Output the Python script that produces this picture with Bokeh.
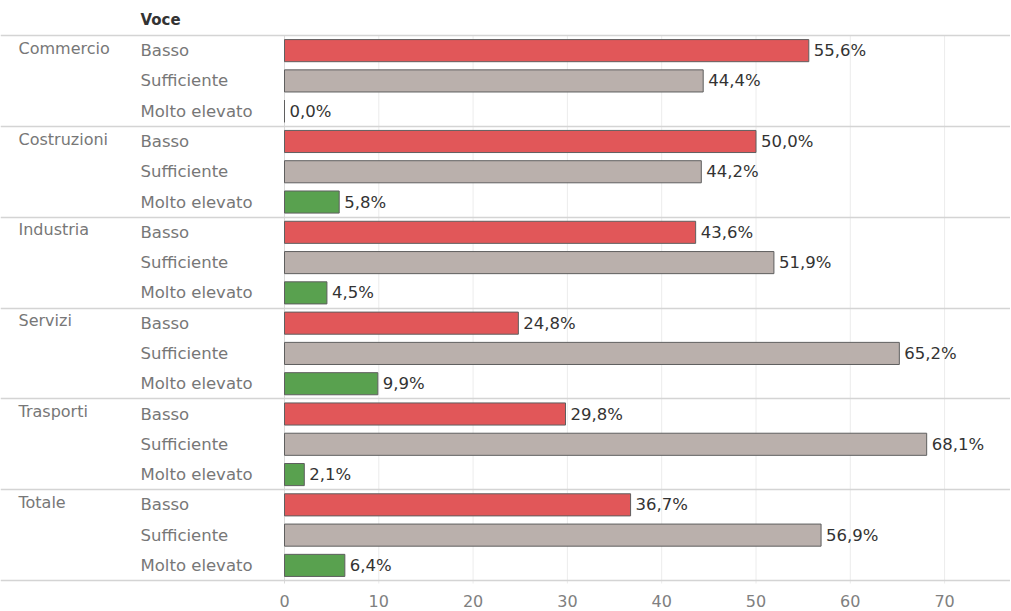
from bokeh.plotting import figure
from bokeh.models import Range1d, FixedTicker, ColumnDataSource
from bokeh.core.properties import value
from bokeh.embed import file_html
from bokeh.resources import INLINE

sectors = ["Commercio", "Costruzioni", "Industria", "Servizi", "Trasporti", "Totale"]
levels = ["Basso", "Sufficiente", "Molto elevato"]
basso = [55.6, 50.0, 43.6, 24.8, 29.8, 36.7]
sufficiente = [44.4, 44.2, 51.9, 65.2, 68.1, 56.9]
molto_elevato = [0.0, 5.8, 4.5, 9.9, 2.1, 6.4]
level_colors = ["#E15759", "#BAB0AC", "#59A14F"]
tick_values = [0, 10, 20, 30, 40, 50, 60, 70]
header = "Voce"

FONT = "DejaVu Sans"
FW, FH = 1010, 583
PX_PER_UNIT = 9.43
ZERO_PX = 284
ROW_PX = 30.28
TOP_SEP_PX = 35

x_start = -ZERO_PX / PX_PER_UNIT
x_end = (FW - ZERO_PX) / PX_PER_UNIT
y_start = -TOP_SEP_PX / ROW_PX
y_end = (FH - TOP_SEP_PX) / ROW_PX

series = [basso, sufficiente, molto_elevato]
ys, rights, cols, labels = [], [], [], []
lvl_y, lvl_txt = [], []
for g, s in enumerate(sectors):
    for j, lv in enumerate(levels):
        y = g * 3 + j + 0.5
        v = series[j][g]
        ys.append(y)
        rights.append(v)
        cols.append(level_colors[j])
        labels.append(("%.1f" % v).replace(".", ",") + "%")
        lvl_y.append(y)
        lvl_txt.append(lv)

src = ColumnDataSource(dict(y=ys, right=rights, color=cols, label=labels))

p = figure(frame_width=FW, frame_height=FH, output_backend="svg", toolbar_location=None,
           x_range=Range1d(x_start, x_end), y_range=Range1d(y_end, y_start),
           y_axis_location=None, min_border_left=0, min_border_right=0,
           min_border_top=0, min_border_bottom=0, outline_line_color=None)
p.grid.visible = False

# vertical gridlines
n_rows = len(sectors) * len(levels)
p.segment(x0=tick_values, x1=tick_values, y0=[0] * len(tick_values),
          y1=[n_rows + 0.4] * len(tick_values),
          line_color=["#d9d9d9"] + ["#ececec"] * (len(tick_values) - 1), line_width=1)

# group separators
p.hspan(y=[g * 3 for g in range(len(sectors) + 1)], line_color="#d4d4d4", line_width=1.6)

p.hbar(y="y", left=0, right="right", height=0.73, fill_color="color",
       line_color="#5f5f5f", line_width=1, source=src)

p.text(x="right", y="y", text="label", x_offset=5, source=src,
       text_font=value(FONT), text_font_size="16.5px", text_color="#333333",
       text_baseline="middle", text_align="left")

# level labels
lvl_x = (140 - ZERO_PX) / PX_PER_UNIT
p.text(x=[lvl_x] * len(lvl_y), y=lvl_y, text=lvl_txt, text_font=value(FONT),
       text_font_size="16.5px", text_color="#777777", text_baseline="middle", text_align="left")

# sector labels
sec_x = (18 - ZERO_PX) / PX_PER_UNIT
p.text(x=[sec_x] * len(sectors), y=[g * 3 + 0.42 for g in range(len(sectors))], text=sectors,
       text_font=value(FONT), text_font_size="16px", text_color="#777777",
       text_baseline="middle", text_align="left")

# header
p.text(x=[lvl_x], y=[-0.5], text=[header], text_font=value(FONT), text_font_size="15px",
       text_font_style="bold", text_color="#333333", text_baseline="middle", text_align="left")

ax = p.xaxis[0]
ax.ticker = FixedTicker(ticks=tick_values)
ax.axis_line_color = None
ax.major_tick_line_color = None
ax.minor_tick_line_color = None
ax.major_label_standoff = 5
ax.major_label_text_font = FONT
ax.major_label_text_font_size = "16px"
ax.major_label_text_color = "#808080"

open("out.html", "w").write(file_html(p, INLINE))
